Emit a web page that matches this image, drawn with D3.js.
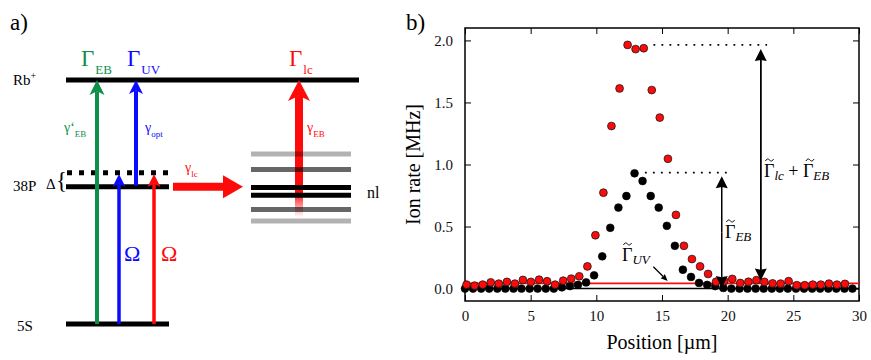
<!DOCTYPE html>
<html>
<head>
<meta charset="utf-8">
<script src="https://cdn.jsdelivr.net/npm/d3@7"></script>
<style>
body { margin: 0; background: #fff; }
</style>
</head>
<body>
<svg id="chart" width="871" height="360"></svg>
<script>
// values
let blackPos = [0, 0.61, 1.23, 1.84, 2.46, 3.07, 3.69, 4.30, 4.92, 5.53, 6.15, 6.76, 7.38, 7.99, 8.60, 9.22,
  9.83, 10.45, 11.06, 11.68, 12.29, 12.91, 13.52, 14.14, 14.75, 15.37, 15.98, 16.59, 17.21, 17.82, 18.44,
  19.05, 19.67, 20.28, 20.90, 21.51, 22.13, 22.74, 23.36, 23.97, 24.58, 25.20, 25.81, 26.43, 27.04, 27.66,
  28.27, 28.89, 29.50]
let blackRate = [0, 0, 0, 0, 0, 0, 0, 0, 0, 0, 0, 0, 0.01, 0.02, 0.03, 0.05,
  0.107, 0.26, 0.49, 0.653, 0.746, 0.929, 0.867, 0.746, 0.653, 0.506, 0.345, 0.152, 0.094, 0.046, 0.03,
  0.02, 0.005, 0, 0, 0, 0, 0, 0, 0, 0, 0, 0, 0, 0, 0,
  0, 0, 0]

let redPos = [0.12, 0.73, 1.35, 1.96, 2.57, 3.19, 3.80, 4.41, 5.02, 5.64, 6.25, 6.86, 7.48, 8.09, 8.70, 9.32,
  9.93, 10.54, 11.15, 11.77, 12.38, 12.99, 13.61, 14.22, 14.83, 15.45, 16.06, 16.67, 17.28, 17.90, 18.51,
  19.12, 19.74, 20.35, 20.96, 21.58, 22.19, 22.80, 23.42, 24.03, 24.64, 25.26, 25.87, 26.48, 27.09, 27.71,
  28.32, 28.93]
let redRate = [0.032, 0.024, 0.032, 0.05, 0.04, 0.054, 0.04, 0.07, 0.054, 0.072, 0.059, 0.032, 0.064, 0.08, 0.099, 0.179,
  0.43, 0.773, 1.31, 1.613, 1.964, 1.93, 1.937, 1.60, 1.378, 1.046, 0.594, 0.345, 0.238, 0.179, 0.118,
  0.055, 0.06, 0.078, 0.045, 0.055, 0.068, 0.054, 0.042, 0.04, 0.06, 0.027, 0.027, 0.032, 0.032, 0.04,
  0.032, 0.038]

let blackFit = 0.0
let redFit = 0.042
let xTicks = [0, 5, 10, 15, 20, 25, 30]
let yTicks = [0, 0.5, 1.0, 1.5, 2.0]

// left panel: shades of the nl manifold
let nlShades = [0.3, 0.6, 1, 1, 0.6, 0.3]

const FONT = 'Liberation Serif'
let svg = d3.select('#chart').attr('font-family', FONT)
let green = '#0e8f4a'
let blue = '#0b0bff'
let red = '#ff0a0a'

let arrow = (g, x1, y1, x2, y2, color, sw, len, wid, notch) => {
  let ang = Math.atan2(y2 - y1, x2 - x1)
  let back = len * notch
  g.append('line')
    .attr('x1', x1).attr('y1', y1)
    .attr('x2', x2 - Math.cos(ang) * back).attr('y2', y2 - Math.sin(ang) * back)
    .attr('stroke', color).attr('stroke-width', sw)
  g.append('path')
    .attr('d', `M0,0 L${-len},${-wid / 2} L${-back},0 L${-len},${wid / 2} Z`)
    .attr('transform', `translate(${x2},${y2}) rotate(${ang * 180 / Math.PI})`)
    .attr('fill', color)
}

// ================= panel a =================
let a = svg.append('g').attr('font-family', FONT)
a.append('text').attr('x', 10).attr('y', 30).attr('font-size', 23).text('a)')

let lvl = d3.scaleLinear().domain([0, 1]).range([324, 80])
let y5S = lvl(0), y38 = lvl(0.563), yDash = lvl(0.62), yRb = lvl(1)

a.append('line').attr('x1', 66).attr('x2', 359).attr('y1', yRb).attr('y2', yRb)
  .attr('stroke', '#000').attr('stroke-width', 5)
a.append('line').attr('x1', 66).attr('x2', 169).attr('y1', y38).attr('y2', y38)
  .attr('stroke', '#000').attr('stroke-width', 5)
a.append('line').attr('x1', 67).attr('x2', 169).attr('y1', yDash).attr('y2', yDash)
  .attr('stroke', '#000').attr('stroke-width', 5).attr('stroke-dasharray', '5,7')
a.append('line').attr('x1', 66).attr('x2', 169).attr('y1', y5S).attr('y2', y5S)
  .attr('stroke', '#000').attr('stroke-width', 5)

let rb = a.append('text').attr('x', 13).attr('y', 85).attr('font-size', 15)
rb.append('tspan').text('Rb')
rb.append('tspan').attr('font-size', 10).attr('dy', -6).text('+')
a.append('text').attr('x', 13).attr('y', 191).attr('font-size', 15).text('38P')
a.append('text').attr('x', 46).attr('y', 189).attr('font-size', 15).text('Δ')
a.append('text').attr('x', 56).attr('y', 188).attr('font-size', 23).text('{')
a.append('text').attr('x', 17).attr('y', 331).attr('font-size', 15).text('5S')
a.append('text').attr('x', 367).attr('y', 198).attr('font-size', 16).text('nl')

// red excitation arrow through nl levels (fades at the bottom)
let defs = svg.append('defs')
let grad = defs.append('linearGradient').attr('id', 'fade')
  .attr('gradientUnits', 'userSpaceOnUse').attr('x1', 0).attr('x2', 0).attr('y1', 192).attr('y2', 217)
grad.append('stop').attr('offset', 0).attr('stop-color', red).attr('stop-opacity', 1)
grad.append('stop').attr('offset', 1).attr('stop-color', red).attr('stop-opacity', 0)
a.append('rect').attr('x', 295).attr('width', 8).attr('y', 192).attr('height', 25).attr('fill', 'url(#fade)')
arrow(a, 299, 193, 299, yRb, red, 8, 21, 22, 0.75)

let nlLevel = d3.scaleLinear().domain([0, 1]).range([154, 221])
let nlOffsets = [0, 0.231, 0.5, 0.615, 0.828, 1]
a.selectAll('.nl').data(nlShades).enter().append('line')
  .attr('x1', 251).attr('x2', 351)
  .attr('y1', (d, i) => nlLevel(nlOffsets[i]))
  .attr('y2', (d, i) => nlLevel(nlOffsets[i]))
  .attr('stroke', '#000').attr('stroke-opacity', d => d).attr('stroke-width', 5)

// vertical arrows
arrow(a, 97, y5S, 97, yRb, green, 4, 15, 15, 0.75)
arrow(a, 119, y5S, 119, 174, blue, 3.5, 13, 13, 0.75)
arrow(a, 154, y5S, 154, 174, red, 3.5, 13, 13, 0.75)
arrow(a, 136, y38 - 1, 136, yRb, blue, 4, 14, 14, 0.75)
// big horizontal transfer arrow
arrow(a, 173, y38, 243, y38, red, 8, 20, 23, 1)

let gammaBig = (x, y, color, sub) => {
  let t = a.append('text').attr('x', x).attr('y', y).attr('fill', color).attr('font-size', 23)
  t.append('tspan').text('Γ')
  t.append('tspan').attr('font-size', 13).attr('dy', 8).attr('dx', 1).text(sub)
}
gammaBig(81, 66, green, 'EB')
gammaBig(127, 66, blue, 'UV')
gammaBig(289, 66, red, 'lc')

let gammaSmall = (x, y, color, main, sub) => {
  let t = a.append('text').attr('x', x).attr('y', y).attr('fill', color).attr('font-size', 14)
  t.append('tspan').text(main)
  t.append('tspan').attr('font-size', 9).attr('dy', 5).text(sub)
}
gammaSmall(64, 132, green, 'γ‘', 'EB')
gammaSmall(145, 132, blue, 'γ', 'opt')
gammaSmall(185, 172, red, 'γ', 'lc')
gammaSmall(307, 132, red, 'γ', 'EB')

a.append('text').attr('x', 124).attr('y', 261).attr('font-size', 22).attr('fill', blue).text('Ω')
a.append('text').attr('x', 161).attr('y', 261).attr('font-size', 22).attr('fill', red).text('Ω')

// ================= panel b =================
let plot = { left: 465, right: 859, top: 28, bottom: 301 }
let xScale = d3.scaleLinear().domain([0, 30]).range([plot.left, plot.right])
let yScale = d3.scaleLinear().domain([-0.1, 2.1]).range([plot.bottom, plot.top])

svg.append('text').attr('x', 406).attr('y', 30).attr('font-size', 23).attr('font-family', FONT).text('b)')

let styleAxis = (g) => {
  g.select('.domain').remove()
  g.attr('font-family', FONT).attr('font-size', 15)
  g.selectAll('.tick line').attr('stroke', '#000').attr('stroke-width', 1)
  g.selectAll('.tick text').attr('fill', '#111').attr('font-family', FONT)
}

svg.append('g').attr('transform', `translate(0,${plot.bottom})`)
  .call(d3.axisBottom(xScale).tickValues(xTicks).tickFormat(d3.format('d')).tickSizeInner(-6).tickSizeOuter(0).tickPadding(9))
  .call(styleAxis)
svg.append('g').attr('transform', `translate(0,${plot.top})`)
  .call(d3.axisTop(xScale).tickValues(xTicks).tickFormat('').tickSizeInner(-6).tickSizeOuter(0))
  .call(styleAxis)
svg.append('g').attr('transform', `translate(${plot.left},0)`)
  .call(d3.axisLeft(yScale).tickValues(yTicks).tickFormat(d3.format('.1f')).tickSizeInner(-6).tickSizeOuter(0).tickPadding(12))
  .call(styleAxis)
svg.append('g').attr('transform', `translate(${plot.right},0)`)
  .call(d3.axisRight(yScale).tickValues(yTicks).tickFormat('').tickSizeInner(-6).tickSizeOuter(0))
  .call(styleAxis)

svg.append('rect')
  .attr('x', plot.left).attr('y', plot.top)
  .attr('width', plot.right - plot.left).attr('height', plot.bottom - plot.top)
  .attr('fill', 'none').attr('stroke', '#000').attr('stroke-width', 1.5)

svg.append('text').attr('font-family', FONT)
  .attr('transform', `translate(420,${(plot.top + plot.bottom) / 2}) rotate(-90)`)
  .attr('text-anchor', 'middle').attr('font-size', 20).text('Ion rate [MHz]')
svg.append('text').attr('font-family', FONT)
  .attr('x', (plot.left + plot.right) / 2).attr('y', 349)
  .attr('text-anchor', 'middle').attr('font-size', 20).text('Position [µm]')

// fitted background levels
svg.append('line').attr('x1', xScale(0)).attr('x2', xScale(30))
  .attr('y1', yScale(blackFit)).attr('y2', yScale(blackFit))
  .attr('stroke', '#000').attr('stroke-width', 1.5)
svg.append('line').attr('x1', xScale(0)).attr('x2', xScale(30))
  .attr('y1', yScale(redFit)).attr('y2', yScale(redFit))
  .attr('stroke', red).attr('stroke-width', 1.8)

let blackData = blackPos.map((p, i) => ({ x: p, y: blackRate[i] }))
let redData = redPos.map((p, i) => ({ x: p, y: redRate[i] }))

svg.append('g').selectAll('circle').data(blackData).enter().append('circle')
  .attr('cx', d => xScale(d.x)).attr('cy', d => yScale(d.y)).attr('r', 3.9)
  .attr('fill', '#000').attr('stroke', '#000').attr('stroke-width', 0.6)
svg.append('g').selectAll('circle').data(redData).enter().append('circle')
  .attr('cx', d => xScale(d.x)).attr('cy', d => yScale(d.y)).attr('r', 3.9)
  .attr('fill', red).attr('stroke', '#1a1a1a').attr('stroke-width', 0.8)

// annotations
let redPeak = d3.max(redRate)
let blackPeak = d3.max(blackRate)
svg.append('line').attr('x1', xScale(14.35)).attr('x2', xScale(23.0))
  .attr('y1', yScale(redPeak)).attr('y2', yScale(redPeak))
  .attr('stroke', '#000').attr('stroke-width', 1.8).attr('stroke-dasharray', '1.8,6.2')
svg.append('line').attr('x1', xScale(13.7)).attr('x2', xScale(20.1))
  .attr('y1', yScale(blackPeak + 0.005)).attr('y2', yScale(blackPeak + 0.005))
  .attr('stroke', '#000').attr('stroke-width', 1.8).attr('stroke-dasharray', '1.8,6.2')

let ann = svg.append('g').attr('font-family', FONT)
let xa = xScale(22.52), xb = xScale(19.55)
ann.append('line').attr('x1', xa).attr('x2', xa).attr('y1', yScale(1.93) + 10).attr('y2', yScale(0.065) - 10)
  .attr('stroke', '#000').attr('stroke-width', 1.5)
arrow(ann, xa, yScale(1.0), xa, yScale(1.93), '#000', 1.5, 12, 12, 0.9)
arrow(ann, xa, yScale(1.0), xa, yScale(0.065), '#000', 1.5, 12, 12, 0.9)
arrow(ann, xb, yScale(0.45), xb, yScale(0.905), '#000', 1.5, 12, 12, 0.9)
arrow(ann, xb, yScale(0.45), xb, yScale(0.005), '#000', 1.5, 12, 12, 0.9)
arrow(ann, xScale(14.34), yScale(0.176), xScale(15.43), yScale(0.061), '#000', 1.3, 7, 6, 0.9)

let gLabel = (x, y, parts) => {
  let t = ann.append('text').attr('x', x).attr('y', y).attr('font-size', 18)
  parts.forEach(p => {
    if (p.sub) t.append('tspan').attr('font-style', 'italic').attr('font-size', 13).attr('dy', 3).text(p.sub)
    else t.append('tspan').attr('dy', p.dy || 0).text(p.txt)
  })
  return t
}
// tilde accent drawn as a small curve
let tilde = (cx, cy) => ann.append('path')
  .attr('d', `M${cx - 4},${cy + 1} C${cx - 2.5},${cy - 2} ${cx - 1},${cy - 1} ${cx},${cy} S${cx + 2.5},${cy + 2} ${cx + 4},${cy - 1}`)
  .attr('fill', 'none').attr('stroke', '#000').attr('stroke-width', 1)

gLabel(764, 177, [{ txt: 'Γ' }, { sub: 'lc' }, { txt: ' + ', dy: -3 }, { txt: 'Γ' }, { sub: 'EB' }])
tilde(769.5, 160)
tilde(810, 160)
gLabel(725, 238, [{ txt: 'Γ' }, { sub: 'EB' }])
tilde(730.5, 221)
gLabel(622, 261, [{ txt: 'Γ' }, { sub: 'UV' }])
tilde(627.5, 244)
</script>
</body>
</html>
